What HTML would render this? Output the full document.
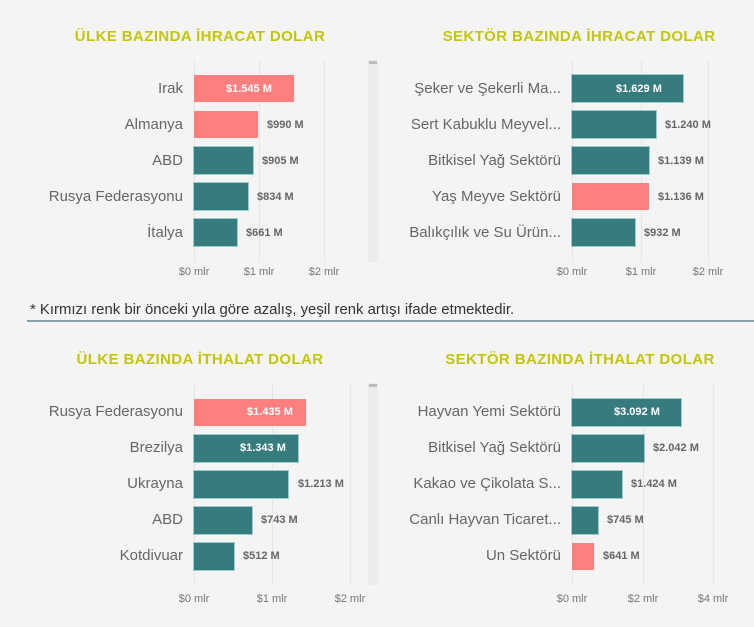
<!DOCTYPE html>
<html><head><meta charset="utf-8"><style>
body{margin:0;width:754px;height:627px;background:#f4f4f4;position:relative;overflow:hidden;font-family:"Liberation Sans","DejaVu Sans",sans-serif}
div{position:absolute}
.t{font-weight:bold;color:#c3c50b;font-size:15px;letter-spacing:0.4px;white-space:nowrap;transform:translateX(-50%)}
.g{width:1px;background:#e6e6e6}
.l{color:#666;font-size:15px;text-align:right;width:180px;white-space:nowrap;line-height:20px}
.b{height:27px}
.r{background:#ff7f7f}.c{background:#367b7d;box-shadow:0 0 0 1px #9cc}
.v{font-size:11px;font-weight:bold;color:#666;line-height:14px;white-space:nowrap}
.w{color:#fff}
.a{font-size:11px;color:#777;transform:translateX(-50%);white-space:nowrap}
.s{width:10px;background:#ececec}
</style></head><body>
<div class="t" style="left:200px;top:28px">ÜLKE BAZINDA İHRACAT DOLAR</div>
<div class="t" style="left:579px;top:28px">SEKTÖR BAZINDA İHRACAT DOLAR</div>
<div class="t" style="left:200px;top:351px">ÜLKE BAZINDA İTHALAT DOLAR</div>
<div class="t" style="left:580px;top:351px">SEKTÖR BAZINDA İTHALAT DOLAR</div>

<!-- TL -->
<div class="g" style="left:194px;top:60px;height:202px"></div><div class="g" style="left:259px;top:60px;height:202px"></div><div class="g" style="left:324px;top:60px;height:202px"></div>
<div class="s" style="left:368px;top:60px;height:202px"></div><div style="left:369px;top:61px;width:8px;height:3px;background:#bbb"></div>
<div class="l" style="left:3px;top:79px">Irak</div><div class="b r" style="left:194px;top:75px;width:100px"></div><div class="v w" style="left:226px;top:82px">$1.545 M</div>
<div class="l" style="left:3px;top:115px">Almanya</div><div class="b r" style="left:194px;top:111px;width:64px"></div><div class="v" style="left:267px;top:118px">$990 M</div>
<div class="l" style="left:3px;top:151px">ABD</div><div class="b c" style="left:194px;top:147px;width:59px"></div><div class="v" style="left:262px;top:154px">$905 M</div>
<div class="l" style="left:3px;top:187px">Rusya Federasyonu</div><div class="b c" style="left:194px;top:183px;width:54px"></div><div class="v" style="left:257px;top:190px">$834 M</div>
<div class="l" style="left:3px;top:223px">İtalya</div><div class="b c" style="left:194px;top:219px;width:43px"></div><div class="v" style="left:246px;top:226px">$661 M</div>
<div class="a" style="left:194px;top:266px">$0 mlr</div><div class="a" style="left:259px;top:266px">$1 mlr</div><div class="a" style="left:324px;top:266px">$2 mlr</div>

<!-- TR -->
<div class="g" style="left:572px;top:60px;height:202px"></div><div class="g" style="left:641px;top:60px;height:202px"></div><div class="g" style="left:708px;top:60px;height:202px"></div>
<div class="l" style="left:381px;top:79px">Şeker ve Şekerli Ma...</div><div class="b c" style="left:572px;top:75px;width:111px"></div><div class="v w" style="left:616px;top:82px">$1.629 M</div>
<div class="l" style="left:381px;top:115px">Sert Kabuklu Meyvel...</div><div class="b c" style="left:572px;top:111px;width:84px"></div><div class="v" style="left:665px;top:118px">$1.240 M</div>
<div class="l" style="left:381px;top:151px">Bitkisel Yağ Sektörü</div><div class="b c" style="left:572px;top:147px;width:77px"></div><div class="v" style="left:658px;top:154px">$1.139 M</div>
<div class="l" style="left:381px;top:187px">Yaş Meyve Sektörü</div><div class="b r" style="left:572px;top:183px;width:77px"></div><div class="v" style="left:658px;top:190px">$1.136 M</div>
<div class="l" style="left:381px;top:223px">Balıkçılık ve Su Ürün...</div><div class="b c" style="left:572px;top:219px;width:63px"></div><div class="v" style="left:644px;top:226px">$932 M</div>
<div class="a" style="left:572px;top:266px">$0 mlr</div><div class="a" style="left:641px;top:266px">$1 mlr</div><div class="a" style="left:708px;top:266px">$2 mlr</div>

<div style="left:30px;top:302px;font-size:14.9px;color:#333;white-space:nowrap">* Kırmızı renk bir önceki yıla göre azalış, yeşil renk artışı ifade etmektedir.</div>
<div style="left:27px;top:320px;width:727px;height:2px;background:#8a9ea6"></div>

<!-- BL -->
<div class="g" style="left:194px;top:383px;height:202px"></div><div class="g" style="left:272px;top:383px;height:202px"></div><div class="g" style="left:350px;top:383px;height:202px"></div>
<div class="s" style="left:368px;top:383px;height:202px"></div><div style="left:369px;top:384px;width:8px;height:3px;background:#bbb"></div>
<div class="l" style="left:3px;top:402px">Rusya Federasyonu</div><div class="b r" style="left:194px;top:399px;width:112px"></div><div class="v w" style="left:247px;top:405px">$1.435 M</div>
<div class="l" style="left:3px;top:438px">Brezilya</div><div class="b c" style="left:194px;top:435px;width:104px"></div><div class="v w" style="left:240px;top:441px">$1.343 M</div>
<div class="l" style="left:3px;top:474px">Ukrayna</div><div class="b c" style="left:194px;top:471px;width:94px"></div><div class="v" style="left:298px;top:477px">$1.213 M</div>
<div class="l" style="left:3px;top:510px">ABD</div><div class="b c" style="left:194px;top:507px;width:58px"></div><div class="v" style="left:261px;top:513px">$743 M</div>
<div class="l" style="left:3px;top:546px">Kotdivuar</div><div class="b c" style="left:194px;top:543px;width:40px"></div><div class="v" style="left:243px;top:549px">$512 M</div>
<div class="a" style="left:194px;top:593px">$0 mlr</div><div class="a" style="left:272px;top:593px">$1 mlr</div><div class="a" style="left:350px;top:593px">$2 mlr</div>

<!-- BR -->
<div class="g" style="left:572px;top:383px;height:202px"></div><div class="g" style="left:643px;top:383px;height:202px"></div><div class="g" style="left:713px;top:383px;height:202px"></div>
<div class="l" style="left:381px;top:402px">Hayvan Yemi Sektörü</div><div class="b c" style="left:572px;top:399px;width:109px"></div><div class="v w" style="left:614px;top:405px">$3.092 M</div>
<div class="l" style="left:381px;top:438px">Bitkisel Yağ Sektörü</div><div class="b c" style="left:572px;top:435px;width:72px"></div><div class="v" style="left:653px;top:441px">$2.042 M</div>
<div class="l" style="left:381px;top:474px">Kakao ve Çikolata S...</div><div class="b c" style="left:572px;top:471px;width:50px"></div><div class="v" style="left:631px;top:477px">$1.424 M</div>
<div class="l" style="left:381px;top:510px">Canlı Hayvan Ticaret...</div><div class="b c" style="left:572px;top:507px;width:26px"></div><div class="v" style="left:607px;top:513px">$745 M</div>
<div class="l" style="left:381px;top:546px">Un Sektörü</div><div class="b r" style="left:572px;top:543px;width:22px"></div><div class="v" style="left:603px;top:549px">$641 M</div>
<div class="a" style="left:572px;top:593px">$0 mlr</div><div class="a" style="left:643px;top:593px">$2 mlr</div><div class="a" style="left:713px;top:593px">$4 mlr</div>
</body></html>
